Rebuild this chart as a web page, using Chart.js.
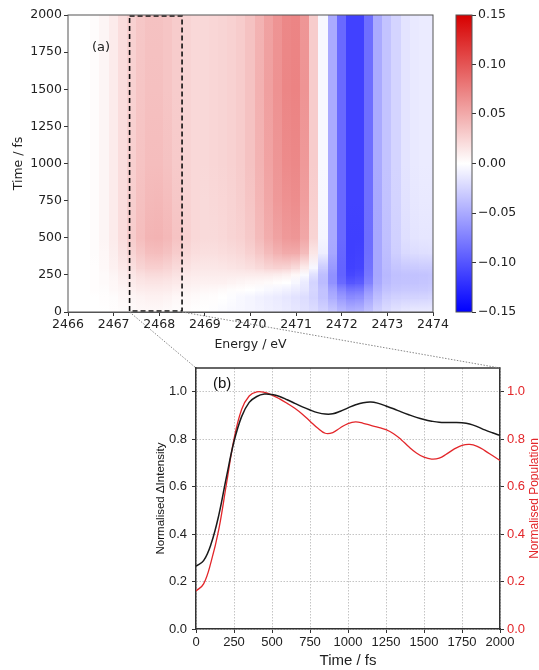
<!DOCTYPE html>
<html>
<head>
<meta charset="utf-8">
<script src="https://cdn.jsdelivr.net/npm/chart.js@4.4.0/dist/chart.umd.min.js"></script>
<style>
  html, body { margin: 0; padding: 0; background: #fff; }
  #wrap { position: relative; width: 539px; height: 670px; }
  canvas { position: absolute; }
</style>
</head>
<body>
<div id="wrap">
  <canvas id="map" width="539" height="352" style="left:0;top:0;width:539px;height:352px"></canvas>
  <canvas id="cbar" width="99" height="352" style="left:440px;top:0;width:99px;height:352px"></canvas>
  <canvas id="kin" width="539" height="318" style="left:0;top:352px;width:539px;height:318px"></canvas>
  <canvas id="links" width="539" height="670" style="left:0;top:0;width:539px;height:670px;pointer-events:none"></canvas>
</div>
<script>
// (a) transient map: energy columns, delay rows, ΔI values
const energies = [2466.0, 2466.2, 2466.4, 2466.6, 2466.8, 2467.0, 2467.2, 2467.4, 2467.6, 2467.8,
                  2468.0, 2468.2, 2468.4, 2468.6, 2468.8, 2469.0, 2469.2, 2469.4, 2469.6, 2469.8,
                  2470.0, 2470.2, 2470.4, 2470.6, 2470.8, 2471.0, 2471.2, 2471.4, 2471.6, 2471.8,
                  2472.0, 2472.2, 2472.4, 2472.6, 2472.8, 2473.0, 2473.2, 2473.4, 2473.6, 2473.8, 2474.0];
const delays = [0, 100, 150, 200, 250, 300, 400, 500, 750, 1000, 1500, 2000];
const dIntensity = [
  [0,0,0,0,0, 0.001,0.002,0.003,0.004,0.004, 0.004,0.003,0.002,0.001,0, 0,-0.001,-0.003,-0.004,-0.005, -0.006,-0.007,-0.009,-0.01,-0.012, -0.014,-0.017,-0.02,-0.026,-0.032, -0.04,-0.045,-0.043,-0.035,-0.026, -0.02,-0.016,-0.013,-0.012,-0.012, -0.012],
  [0,0,0,0,0.001, 0.002,0.004,0.006,0.007,0.008, 0.008,0.007,0.005,0.004,0.003, 0.002,0.001,0,-0.002,-0.004, -0.006,-0.008,-0.01,-0.012,-0.014, -0.017,-0.02,-0.026,-0.035,-0.048, -0.06,-0.068,-0.066,-0.052,-0.038, -0.03,-0.027,-0.026,-0.026,-0.025, -0.024],
  [0,0,0,0.001,0.002, 0.004,0.006,0.009,0.011,0.012, 0.012,0.011,0.009,0.007,0.006, 0.005,0.004,0.003,0.002,0.001, 0,-0.002,-0.004,-0.006,-0.008, -0.011,-0.015,-0.024,-0.036,-0.055, -0.072,-0.082,-0.08,-0.062,-0.045, -0.036,-0.033,-0.032,-0.032,-0.031, -0.03],
  [0,0,0,0.001,0.003, 0.005,0.008,0.012,0.015,0.016, 0.016,0.015,0.013,0.01,0.009, 0.008,0.008,0.008,0.007,0.006, 0.005,0.004,0.003,0.001,0, -0.005,-0.012,-0.025,-0.04,-0.065, -0.088,-0.1,-0.097,-0.075,-0.05, -0.04,-0.036,-0.035,-0.035,-0.034, -0.033],
  [0,0,0,0.001,0.003, 0.006,0.01,0.015,0.019,0.021, 0.021,0.02,0.017,0.013,0.012, 0.011,0.011,0.011,0.011,0.011, 0.011,0.011,0.011,0.01,0.008, 0.004,-0.003,-0.018,-0.038,-0.065, -0.092,-0.108,-0.105,-0.08,-0.052, -0.042,-0.037,-0.036,-0.036,-0.035, -0.034],
  [0,0,0,0.001,0.004, 0.008,0.013,0.019,0.025,0.028, 0.028,0.026,0.022,0.017,0.015, 0.014,0.014,0.015,0.016,0.017, 0.019,0.022,0.025,0.027,0.026, 0.022,0.012,-0.005,-0.03,-0.06, -0.092,-0.112,-0.11,-0.083,-0.052, -0.04,-0.034,-0.032,-0.031,-0.03, -0.03],
  [0,0,0,0.002,0.005, 0.01,0.017,0.025,0.033,0.038, 0.039,0.036,0.03,0.023,0.02, 0.019,0.019,0.02,0.021,0.023, 0.027,0.033,0.04,0.046,0.05, 0.05,0.04,0.015,-0.01,-0.052, -0.09,-0.113,-0.112,-0.085,-0.052, -0.038,-0.028,-0.022,-0.02,-0.019, -0.018],
  [0,0,0,0.002,0.006, 0.012,0.02,0.03,0.039,0.044, 0.045,0.042,0.035,0.027,0.023, 0.022,0.022,0.023,0.025,0.027, 0.032,0.04,0.048,0.055,0.06, 0.062,0.052,0.025,-0.006,-0.05, -0.088,-0.113,-0.113,-0.086,-0.052, -0.037,-0.027,-0.019,-0.016,-0.015, -0.015],
  [0,0,0,0.002,0.006, 0.012,0.02,0.029,0.037,0.041, 0.042,0.039,0.033,0.026,0.023, 0.022,0.023,0.024,0.026,0.029, 0.034,0.043,0.052,0.06,0.065, 0.067,0.057,0.028,-0.005,-0.05, -0.088,-0.112,-0.112,-0.085,-0.051, -0.036,-0.026,-0.017,-0.014,-0.013, -0.013],
  [0,0,0,0.002,0.006, 0.012,0.02,0.028,0.035,0.039, 0.039,0.036,0.031,0.025,0.023, 0.023,0.024,0.025,0.027,0.03, 0.036,0.045,0.054,0.062,0.068, 0.07,0.06,0.03,-0.004,-0.05, -0.088,-0.112,-0.112,-0.085,-0.05, -0.035,-0.025,-0.016,-0.013,-0.012, -0.012],
  [0,0,0,0.002,0.006, 0.012,0.02,0.027,0.034,0.037, 0.037,0.034,0.03,0.025,0.023, 0.023,0.024,0.025,0.027,0.03, 0.036,0.046,0.056,0.064,0.071, 0.073,0.063,0.03,-0.004,-0.05, -0.088,-0.112,-0.112,-0.085,-0.05, -0.035,-0.025,-0.016,-0.013,-0.012, -0.012],
  [0,0,0,0.002,0.006, 0.012,0.02,0.027,0.033,0.036, 0.036,0.034,0.03,0.025,0.023, 0.023,0.024,0.025,0.027,0.03, 0.036,0.045,0.055,0.063,0.07, 0.072,0.062,0.03,-0.004,-0.05, -0.088,-0.112,-0.112,-0.085,-0.05, -0.035,-0.025,-0.016,-0.013,-0.012, -0.012]
];
const energyTicks = [2466, 2467, 2468, 2469, 2470, 2471, 2472, 2473, 2474];
const delayTicks = [0, 250, 500, 750, 1000, 1250, 1500, 1750, 2000];
const cbarTicks = [-0.15, -0.10, -0.05, 0, 0.05, 0.10, 0.15];
const zoomWindow = [2467.35, 2468.5];   // energy range of the dashed box

// (b) kinetics
const kinTimes = [0, 50, 100, 150, 200, 250, 300, 350, 400, 450, 500, 550, 600, 650, 700, 750, 800, 850, 900, 950,
                  1000, 1050, 1100, 1150, 1200, 1250, 1300, 1350, 1400, 1450, 1500, 1550, 1600, 1650, 1700, 1750,
                  1800, 1850, 1900, 1950, 2000];
const intensity = [0.265, 0.288, 0.36, 0.48, 0.64, 0.79, 0.895, 0.955, 0.98, 0.99, 0.988, 0.98, 0.966, 0.951, 0.936,
                   0.923, 0.912, 0.906, 0.907, 0.918, 0.932, 0.945, 0.954, 0.957, 0.951, 0.94, 0.928, 0.915, 0.903,
                   0.892, 0.883, 0.876, 0.871, 0.87, 0.87, 0.869, 0.864, 0.853, 0.839, 0.827, 0.816];
const population = [0.16, 0.19, 0.285, 0.42, 0.61, 0.8, 0.925, 0.982, 0.999, 0.997, 0.986, 0.97, 0.951, 0.93, 0.905,
                    0.876, 0.847, 0.825, 0.828, 0.848, 0.866, 0.873, 0.867, 0.858, 0.85, 0.84, 0.823, 0.798, 0.768,
                    0.742, 0.724, 0.716, 0.72, 0.738, 0.759, 0.774, 0.778, 0.77, 0.752, 0.731, 0.71];
const timeTicks = [0, 250, 500, 750, 1000, 1250, 1500, 1750, 2000];
const normTicks = [0, 0.2, 0.4, 0.6, 0.8, 1.0];

const VMAX = 0.15;
const DEJAVU = 'DejaVu Sans';
const HELV = 'Liberation Sans, Arial, sans-serif';
const RED = '#e3262a';

function bwr(v) {
  const f = Math.max(-1, Math.min(1, v / VMAX));
  if (f >= 0) {
    const r = Math.round(255 - 40 * f), g = Math.round(255 * (1 - f));
    return 'rgb(' + r + ',' + g + ',' + g + ')';
  }
  const c = Math.round(255 * (1 + f));
  return 'rgb(' + c + ',' + c + ',255)';
}

const heatmap = {
  id: 'heatmap',
  beforeDatasetsDraw(chart) {
    const {ctx, chartArea: a, scales: {x, y}} = chart;
    ctx.save();
    ctx.beginPath();
    ctx.rect(a.left, a.top, a.right - a.left, a.bottom - a.top);
    ctx.clip();
    const half = (energies[1] - energies[0]) / 2;
    energies.forEach((e, k) => {
      const x0 = Math.floor(x.getPixelForValue(e - half));
      const x1 = Math.ceil(x.getPixelForValue(e + half));
      for (let i = 0; i < delays.length - 1; i++) {
        const yb = y.getPixelForValue(delays[i]);
        const yt = y.getPixelForValue(delays[i + 1]);
        const g = ctx.createLinearGradient(0, yb, 0, yt);
        g.addColorStop(0, bwr(dIntensity[i][k]));
        g.addColorStop(1, bwr(dIntensity[i + 1][k]));
        ctx.fillStyle = g;
        ctx.fillRect(x0, Math.floor(yt), x1 - x0, Math.ceil(yb) - Math.floor(yt) + 1);
      }
    });
    ctx.restore();
  },
  afterDatasetsDraw(chart) {
    const {ctx, chartArea: a, scales: {x, y}} = chart;
    ctx.save();
    // dashed window
    const bx0 = x.getPixelForValue(zoomWindow[0]);
    const bx1 = x.getPixelForValue(zoomWindow[1]);
    ctx.setLineDash([5, 3]);
    ctx.lineWidth = 1.6;
    ctx.strokeStyle = '#111';
    ctx.strokeRect(bx0, y.getPixelForValue(2000) + 1, bx1 - bx0, y.getPixelForValue(0) - y.getPixelForValue(2000) - 2);
    ctx.setLineDash([]);
    // frame
    ctx.lineWidth = 1;
    ctx.strokeStyle = '#555';
    ctx.strokeRect(a.left, a.top, a.right - a.left, a.bottom - a.top);
    ctx.fillStyle = '#222';
    ctx.font = '13px ' + DEJAVU;
    ctx.textBaseline = 'middle';
    ctx.fillText('(a)', a.left + 24, a.top + 33);
    ctx.restore();
  }
};

new Chart(document.getElementById('map'), {
  type: 'scatter',
  data: {datasets: [{data: []}]},
  options: {
    responsive: false,
    animation: false,
    events: [],
    layout: {padding: {top: 15, right: 106, left: 0, bottom: 0}},
    plugins: {legend: {display: false}, tooltip: {enabled: false}},
    scales: {
      x: {
        type: 'linear', min: 2466, max: 2474,
        afterBuildTicks: s => { s.ticks = energyTicks.map(v => ({value: v})); },
        afterFit: s => { s.height = 40; },
        ticks: {font: {family: DEJAVU, size: 12.5}, color: '#222', padding: 1, maxRotation: 0, callback: v => String(v)},
        grid: {drawOnChartArea: false, tickLength: 4, color: '#333'},
        border: {color: '#555'},
        title: {display: true, text: 'Energy / eV', font: {family: DEJAVU, size: 12.5}, color: '#222', padding: {top: 0, bottom: 0}}
      },
      y: {
        type: 'linear', min: 0, max: 2000,
        afterBuildTicks: s => { s.ticks = delayTicks.map(v => ({value: v})); },
        afterFit: s => { s.width = 68; },
        ticks: {font: {family: DEJAVU, size: 12.5}, color: '#222', padding: 2, callback: v => String(v)},
        grid: {drawOnChartArea: false, tickLength: 4, color: '#333'},
        border: {color: '#555'},
        title: {display: true, text: 'Time / fs', font: {family: DEJAVU, size: 12.5}, color: '#222', padding: {top: 11, bottom: 0}}
      }
    }
  },
  plugins: [heatmap]
});

const colorbar = {
  id: 'colorbar',
  beforeDatasetsDraw(chart) {
    const {ctx, chartArea: a, scales: {y}} = chart;
    const g = ctx.createLinearGradient(0, y.getPixelForValue(-VMAX), 0, y.getPixelForValue(VMAX));
    for (let i = 0; i <= 30; i++) g.addColorStop(i / 30, bwr(-VMAX + 2 * VMAX * i / 30));
    ctx.save();
    ctx.fillStyle = g;
    ctx.fillRect(a.left, a.top, a.right - a.left, a.bottom - a.top);
    ctx.strokeStyle = '#555';
    ctx.lineWidth = 1;
    ctx.strokeRect(a.left, a.top, a.right - a.left, a.bottom - a.top);
    ctx.restore();
  }
};

new Chart(document.getElementById('cbar'), {
  type: 'scatter',
  data: {datasets: [{data: []}]},
  options: {
    responsive: false,
    animation: false,
    events: [],
    layout: {padding: {top: 15, left: 16, right: 0, bottom: 40}},
    plugins: {legend: {display: false}, tooltip: {enabled: false}},
    scales: {
      x: {display: false, min: 0, max: 1},
      y: {
        position: 'right', min: -VMAX, max: VMAX,
        afterBuildTicks: s => { s.ticks = cbarTicks.map(v => ({value: v})); },
        afterFit: s => { s.width = 67; },
        ticks: {font: {family: DEJAVU, size: 12.5}, color: '#222', padding: 2,
                callback: v => (v < -1e-9 ? '\u2212' : '') + Math.abs(v).toFixed(2)},
        grid: {drawOnChartArea: false, tickLength: 4, color: '#333'},
        border: {display: false}
      }
    }
  },
  plugins: [colorbar]
});

const frameB = {
  id: 'frameB',
  afterDraw(chart) {
    const {ctx, chartArea: a} = chart;
    ctx.save();
    ctx.strokeStyle = '#333';
    ctx.lineWidth = 1.5;
    ctx.beginPath();
    ctx.moveTo(a.left, a.top);
    ctx.lineTo(a.right, a.top);
    ctx.stroke();
    ctx.fillStyle = '#111';
    ctx.font = '15px ' + HELV;
    ctx.textBaseline = 'middle';
    ctx.fillText('(b)', a.left + 17, a.top + 16);
    // right axis title, reading bottom to top
    ctx.translate(535, (a.top + a.bottom) / 2);
    ctx.rotate(-Math.PI / 2);
    ctx.textAlign = 'center';
    ctx.fillStyle = RED;
    ctx.font = '12px ' + HELV;
    ctx.fillText('Normalised Population', 0, 0);
    ctx.restore();
  }
};

const kin = new Chart(document.getElementById('kin'), {
  type: 'line',
  data: {
    datasets: [
      {label: 'ΔIntensity', data: kinTimes.map((t, i) => ({x: t, y: intensity[i]})), yAxisID: 'y',
       borderColor: '#1a1a1a', borderWidth: 1.5, pointRadius: 0, tension: 0.4},
      {label: 'Population', data: kinTimes.map((t, i) => ({x: t, y: population[i]})), yAxisID: 'y1',
       borderColor: RED, borderWidth: 1.3, pointRadius: 0, tension: 0.4}
    ]
  },
  options: {
    responsive: false,
    animation: false,
    events: [],
    layout: {padding: {top: 16, left: 150, right: 0, bottom: 0}},
    plugins: {legend: {display: false}, tooltip: {enabled: false}},
    scales: {
      x: {
        type: 'linear', min: 0, max: 2000,
        afterBuildTicks: s => { s.ticks = timeTicks.map(v => ({value: v})); },
        afterFit: s => { s.height = 41; },
        ticks: {font: {family: HELV, size: 13}, color: '#222', padding: 2, maxRotation: 0, callback: v => String(v)},
        grid: {color: '#c4c4c4', tickColor: '#333', tickLength: 4, lineWidth: 1},
        border: {color: '#333', width: 1.5, dash: [1.5, 1.5]},
        title: {display: true, text: 'Time / fs', font: {family: HELV, size: 15}, color: '#222', padding: {top: 5, bottom: 0}}
      },
      y: {
        type: 'linear', min: 0, max: 1.1,
        afterBuildTicks: s => { s.ticks = normTicks.map(v => ({value: v})); },
        afterFit: s => { s.width = 46; },
        ticks: {font: {family: HELV, size: 13}, color: '#222', padding: 5, callback: v => v.toFixed(1)},
        grid: {color: '#c4c4c4', tickColor: '#333', tickLength: 4, lineWidth: 1},
        border: {color: '#333', width: 1.5, dash: [1.5, 1.5]},
        title: {display: true, text: 'Normalised ΔIntensity', font: {family: HELV, size: 11.5}, color: '#111', padding: {top: 4, bottom: 0}}
      },
      y1: {
        type: 'linear', position: 'right', min: 0, max: 1.1,
        afterBuildTicks: s => { s.ticks = normTicks.map(v => ({value: v})); },
        afterFit: s => { s.width = 39; },
        ticks: {font: {family: HELV, size: 13}, color: RED, padding: 3, callback: v => v.toFixed(1)},
        grid: {drawOnChartArea: false, tickColor: '#333', tickLength: 4},
        border: {color: '#333', width: 1.5}
      }
    }
  },
  plugins: [frameB]
});

// dotted links from the dashed window to panel (b)
const mapChart = Chart.getChart('map');
const lc = document.getElementById('links').getContext('2d');
const kinTop = 352;
const mx = mapChart.scales.x, my = mapChart.scales.y;
lc.strokeStyle = '#888';
lc.lineWidth = 1;
lc.setLineDash([1.5, 1.5]);
lc.beginPath();
lc.moveTo(mx.getPixelForValue(zoomWindow[0]), my.getPixelForValue(0));
lc.lineTo(kin.chartArea.left, kinTop + kin.chartArea.top);
lc.moveTo(mx.getPixelForValue(zoomWindow[1]), my.getPixelForValue(0));
lc.lineTo(kin.chartArea.right, kinTop + kin.chartArea.top);
lc.stroke();
</script>
</body>
</html>
